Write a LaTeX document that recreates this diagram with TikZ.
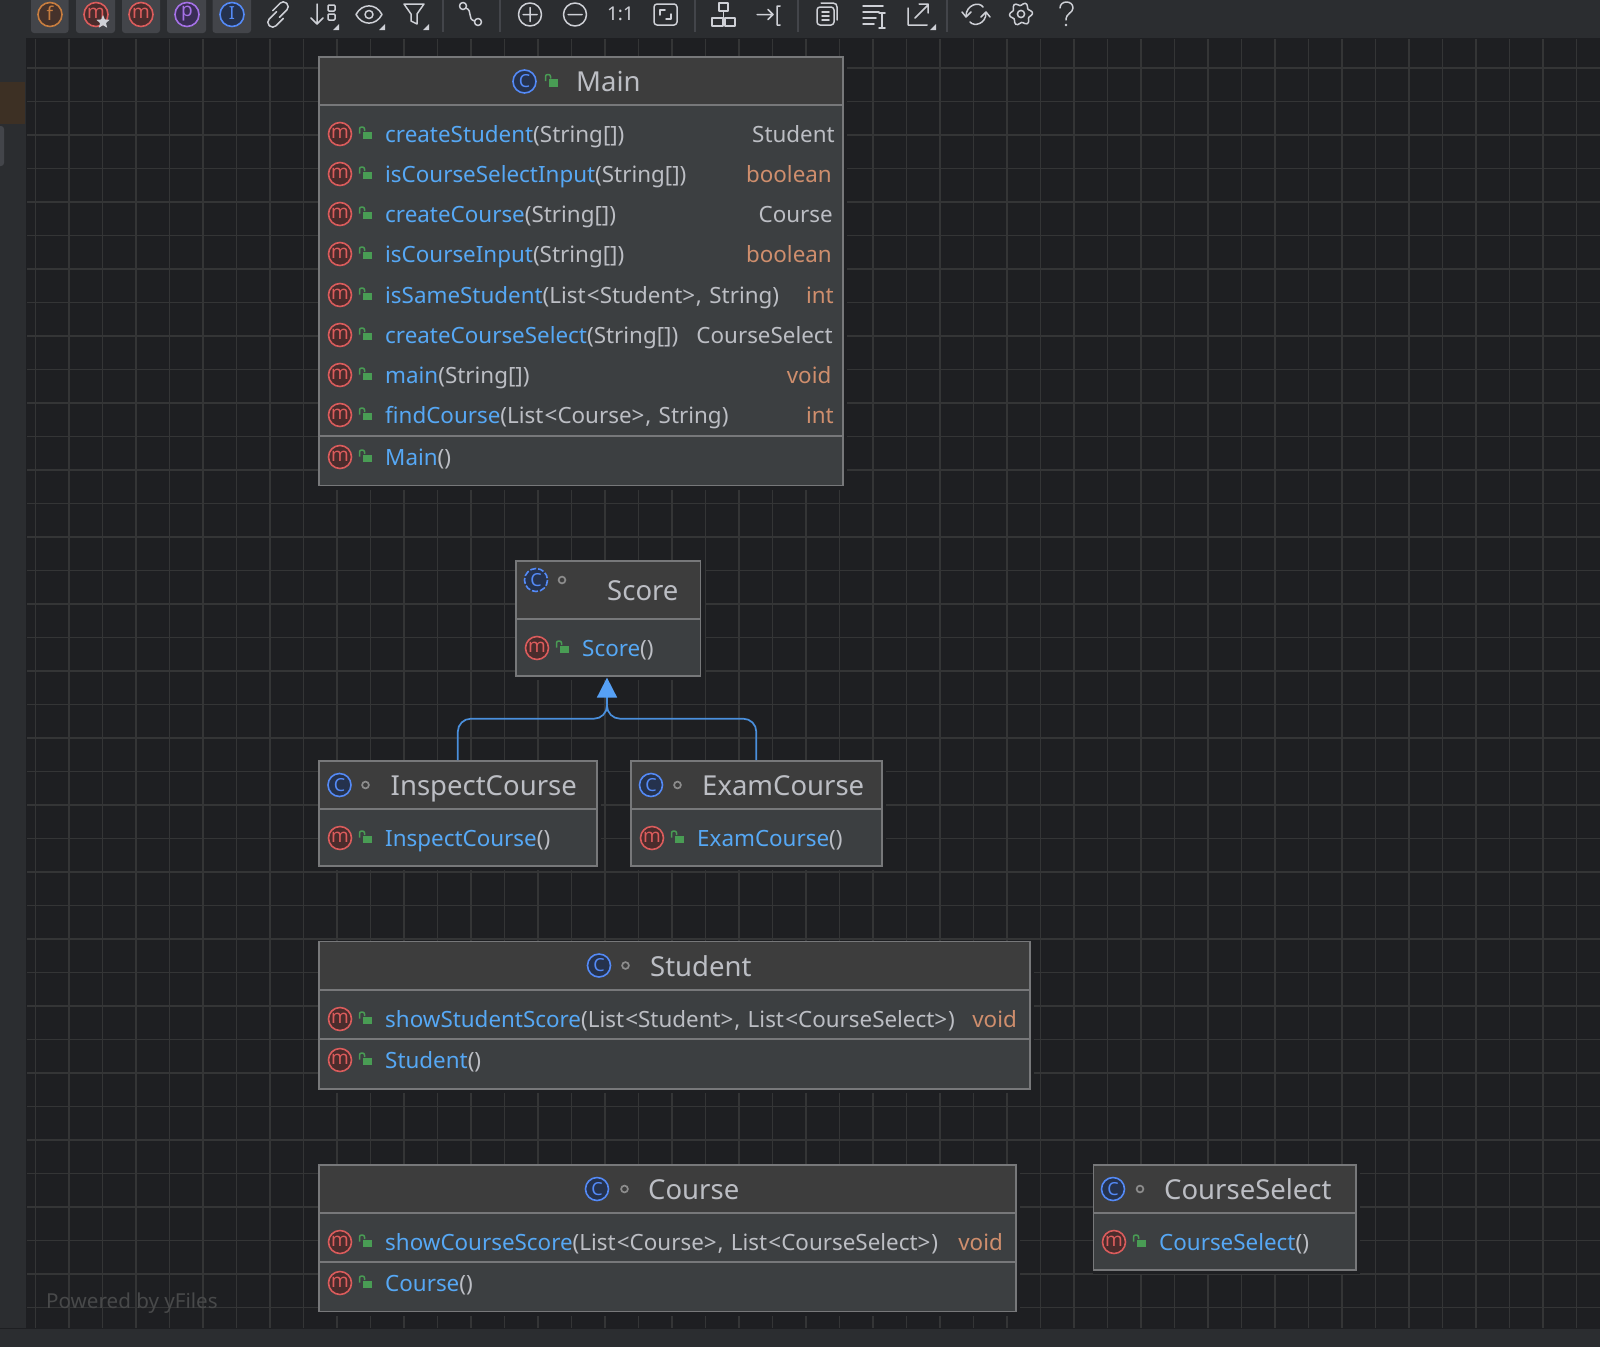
\documentclass[tikz,border=0pt]{standalone}
\usepackage{fontspec}
\setmainfont{Noto Sans}
\usetikzlibrary{arrows.meta,shapes.geometric}
\definecolor{canvasbg}{HTML}{1E1F22}
\definecolor{barbg}{HTML}{2B2D30}
\definecolor{gridc}{HTML}{343536}
\definecolor{headbg}{HTML}{3D3D3D}
\definecolor{bodybg}{HTML}{3C3F41}
\definecolor{edgec}{HTML}{77787A}
\definecolor{txt}{HTML}{BCBEC4}
\definecolor{methc}{HTML}{56A8F5}
\definecolor{kw}{HTML}{CF8E6D}
\definecolor{redc}{HTML}{DB5C5C}
\definecolor{redbg}{HTML}{4A2C2C}
\definecolor{bluec}{HTML}{548AF7}
\definecolor{bluebg}{HTML}{25324D}
\definecolor{greenc}{HTML}{499C54}
\definecolor{purc}{HTML}{A571E6}
\definecolor{purbg}{HTML}{3A2D55}
\definecolor{orgc}{HTML}{C77D3F}
\definecolor{orgbg}{HTML}{45322B}
\definecolor{btnbg}{HTML}{43454A}
\definecolor{iconc}{HTML}{CED0D6}
\definecolor{sepc}{HTML}{43454A}
\definecolor{brownc}{HTML}{3D3024}
\definecolor{connc}{HTML}{4A8FDC}
\definecolor{arrowc}{HTML}{56A0F5}
\newcount\tn
\newcommand{\nextid}{\global\advance\tn by 1\relax}
\newcommand{\lang}{\kern1.2pt<}
\newcommand{\rang}{>\kern0.8pt\relax}
\newcommand{\csp}{, \kern1.6pt\relax}
\tikzset{
  umlbox/.style={draw=edgec,line width=1.6pt,anchor=north west,inner sep=0pt},
  divider/.style={draw=edgec,line width=1.4pt},
  rowtxt/.style={anchor=base west,inner sep=0pt,font=\fontsize{22.4}{26}\selectfont},
  rettxt/.style={anchor=base east,inner sep=0pt,font=\fontsize{22.4}{26}\selectfont},
  titletxt/.style={anchor=base west,inner sep=0pt,text=txt,font=\fontsize{27.5}{32}\selectfont},
  ico/.style={draw=iconc,line width=1.5pt,line cap=round,line join=round},
  connector/.style={draw=connc,line width=1.7pt},
  glyph/.style={inner sep=0pt,font=\fontsize{19}{24}\selectfont},
  tbcirc/.style={line width=1.6pt},
}
\newcommand{\umlframe}[6]{%
  \fill[canvasbg] (#2,#3) rectangle ({#4+5},{#5+5});
  \fill[bodybg] (#2,#3) rectangle (#4,#5);
  \fill[headbg] (#2,#3) rectangle (#4,#6);
  \draw[divider] (#2,#6) -- (#4,#6);
  \node[umlbox,minimum width={(#4-#2)*1pt},minimum height={(#5-#3)*1pt}] (#1) at (#2,#3) {};
}
\newcommand{\micon}[2]{%
  \nextid
  \draw[redc,fill=redbg,tbcirc] (#1,#2) circle (11.5);
  \node[glyph,text=redc] (n\the\tn) at (#1,{#2-1}) {m};
}
\newcommand{\cicon}[3][solid]{%
  \nextid
  \draw[bluec,fill=bluebg,tbcirc,#1] (#2,#3) circle (11.5);
  \node[glyph,text=bluec,font=\fontsize{18}{20}\selectfont] (n\the\tn) at (#2,#3) {C};
}
\newcommand{\lockicon}[2]{%
  \fill[greenc] ({#1-2},{#2-2.5}) rectangle ({#1+6.5},{#2+5});
  \draw[greenc,line width=1.5pt,rounded corners=2pt] ({#1-5.5},{#2-0.5}) -- ({#1-5.5},{#2-7}) -- ({#1-0.5},{#2-7}) -- ({#1-0.5},{#2-3});
}
\newcommand{\doticon}[2]{\draw[gray!90,line width=1.7pt] (#1,#2) circle (3.4);}
\newcommand{\rowm}[4]{% x, y, method, rest
  \micon{#1}{#2}\lockicon{(#1+25)}{#2}%
  \nextid
  \node[rowtxt] (n\the\tn) at ({#1+45},{#2+8}) {\textcolor{methc}{#3}\textcolor{txt}{#4}};
}
\newcommand{\retval}[4]{%
  \nextid
  \node[rettxt,text=#3] (n\the\tn) at (#1,{#2+8}) {#4};
}
\newcommand{\titlenode}[3]{%
  \nextid
  \node[titletxt] (n\the\tn) at (#1,{#2+10.5}) {#3};
}
\newcommand{\tbbutton}[2]{\fill[btnbg,rounded corners=3pt] (#1,-6) rectangle (#2,33);}
\newcommand{\tbletter}[5]{% x, stroke, fill, letter
  \nextid
  \draw[#2,fill=#3,tbcirc] (#1,14.5) circle (12);
  \node[inner sep=0pt,text=#2,font=\fontsize{#5}{24}\selectfont] (n\the\tn) at (#1,13.5) {#4};
}
\begin{document}
\begin{tikzpicture}[x=1pt,y=-1pt]
\useasboundingbox (0,0) rectangle (1600,1347);
% backgrounds
\fill[canvasbg] (0,0) rectangle (1600,1347);
\foreach \k in {0,...,46} \draw[gridc,line width=1.3pt] ({35.5+33.5*\k},39) -- ({35.5+33.5*\k},1328);
\foreach \k in {0,...,37} \draw[gridc,line width=1.3pt] (27,{68+33.5*\k}) -- (1600,{68+33.5*\k});
\fill[barbg] (0,0) rectangle (1600,37.5);
\fill[barbg] (0,0) rectangle (26,1328);
\fill[barbg] (0,1329) rectangle (1600,1347);
\fill[brownc] (0,82) rectangle (25,124);
\fill[btnbg,rounded corners=3pt] (-6,126) rectangle (4,166);
% toolbar buttons
\tbbutton{31}{68.5}\tbbutton{76}{115}\tbbutton{122}{160}\tbbutton{167}{206}\tbbutton{212.5}{251}
\tbletter{50}{orgc}{orgbg}{f}{19}
\tbletter{96}{redc}{redbg}{m}{19}
\node[star,star points=5,star point ratio=2.2,fill=iconc,inner sep=0pt,minimum size=14pt] (tbstar) at (103,22) {};
\tbletter{141}{redc}{redbg}{m}{19}
\tbletter{187}{purc}{purbg}{p}{19}
\tbletter{232}{bluec}{bluebg}{I}{18}
% separators
\foreach \sx in {443,500,695,798,947} \draw[sepc,line width=1.5pt] (\sx,0) -- (\sx,32);
% link
\begin{scope}[rotate around={45:(278,14.5)}]
\draw[ico,rounded corners=4.4pt] (279,11.5) -- (264,11.5) -- (264,21) -- (279,21);
\draw[ico,rounded corners=4.4pt] (277,8) -- (292,8) -- (292,17.5) -- (277,17.5);
\end{scope}
% sort
\draw[ico] (317,4) -- (317,24) (311,18) -- (317,24) -- (323,18);
\draw[ico,rounded corners=1pt] (328,5) rectangle (335,11) (328,14) rectangle (335,20);
% eye
\draw[ico] (356,14.5) .. controls (362,3) and (376,3) .. (382,14.5) .. controls (376,26) and (362,26) .. (356,14.5);
\draw[ico] (369,14.5) circle (4);
% filter
\draw[ico] (404,4) -- (424,4) -- (417,14) -- (417,24) -- (411,21) -- (411,14) -- cycle;
% small corner marks
\foreach \mx/\my in {339/30,385/30,429/30,936/30} \fill[iconc] (\mx,\my) -- ++(-6,0) -- ++(6,-6) -- cycle;
% route
\draw[ico] (463,6) circle (3.5) (478,22) circle (3.5);
\draw[ico] (466,8) .. controls (473,11) and (467,19) .. (474.5,21);
% plus, minus
\draw[ico] (530,14.5) circle (11.5) (523,14.5) -- (537,14.5) (530,7.5) -- (530,21.5);
\draw[ico] (575,14.5) circle (11.5) (568,14.5) -- (582,14.5);
\node[inner sep=0pt,text=iconc,font=\bfseries\fontsize{19}{22}\selectfont] (tbratio) at (620.5,14) {1:1};
% fit
\draw[ico,rounded corners=3pt] (654,4) rectangle (677,25);
\draw[ico] (660,15) -- (660,10) -- (665,10) (671,14) -- (671,19) -- (666,19);
% layout
\draw[ico] (719,3) rectangle (728,11) (712,18) rectangle (723,26) (725,18) rectangle (735,26) (723.5,11) -- (723.5,18);
% jump
\draw[ico] (757,14.5) -- (773,14.5) (768,9.5) -- (773,14.5) -- (768,19.5) (780,6) -- (777,6) -- (777,25) -- (780,25);
% copy
\draw[ico,rounded corners=3pt] (817,7) rectangle (834,25);
\draw[ico] (821,3) -- (833,3) .. controls (836,3) and (837,5) .. (837,7) -- (837,20);
\draw[ico] (822,12) -- (829,12) (822,16) -- (829,16) (822,20) -- (829,20);
% text
\draw[ico] (863,6) -- (883,6) (863,12) -- (879,12) (863,18) -- (876,18) (863,24) -- (874,24) (882,13) -- (882,28) (879,13) -- (885,13) (879,28) -- (885,28);
% export
\draw[ico] (908,8) -- (908,25) -- (927,25) (915,18) -- (928,5) (919,4) -- (928,4) -- (928,13);
% refresh
\draw[ico] (966,16) .. controls (966,5) and (979,1) .. (983,7);
\draw[ico] (986,13) .. controls (986,24) and (974,27) .. (970,22);
\draw[ico] (962,12) -- (966,17) -- (971,12) (981,17) -- (986,12) -- (990,17);
% gear
\draw[ico] plot[smooth cycle,samples=37,domain=0:350] ({1021+(10+1.6*cos(6*\x+30))*cos(\x)},{14+(10+1.6*cos(6*\x+30))*sin(\x)});
\draw[ico] (1021,14) circle (3.6);
% help
\draw[ico] (1060,8) .. controls (1060,0) and (1073,0) .. (1073,8) .. controls (1073,13) and (1066,13) .. (1066,20);
\fill[iconc] (1066,25) circle (1.3);
%
\nextid
\node[anchor=base west,inner sep=0pt,text=gridc!90!white,font=\fontsize{20.6}{24}\selectfont] (n\the\tn) at (46,1308) {Powered by yFiles};
% Main
\umlframe{main}{318}{56}{842}{484.5}{105}
\draw[divider] (318,436) -- (842,436);
\cicon{524.5}{81.5}\lockicon{551}{81.5}\titlenode{576}{81}{Main}
\rowm{340}{134}{createStudent}{(String[])}\retval{835}{134}{txt}{Student}
\rowm{340}{174}{isCourseSelectInput}{(String[])}\retval{832}{174}{kw}{boolean}
\rowm{340}{214}{createCourse}{(String[])}\retval{833}{214}{txt}{Course}
\rowm{340}{254}{isCourseInput}{(String[])}\retval{832}{254}{kw}{boolean}
\rowm{340}{295}{isSameStudent}{(List\lang Student\rang\csp String)}\retval{834}{295}{kw}{int}
\rowm{340}{335}{createCourseSelect}{(String[])}\retval{833}{335}{txt}{CourseSelect}
\rowm{340}{375}{main}{(String[])}\retval{831.5}{375}{kw}{void}
\rowm{340}{415}{findCourse}{(List\lang Course\rang\csp String)}\retval{834}{415}{kw}{int}
\rowm{340}{457}{Main}{()}
% Score
\umlframe{score}{515}{560}{699.5}{675}{619}
\cicon[dash pattern=on 6pt off 2pt]{536}{580}\doticon{562}{580}\titlenode{607}{590}{Score}
\rowm{537}{648}{Score}{()}
% InspectCourse
\umlframe{inspect}{318}{760}{596}{865}{809}
\cicon{339.5}{785}\doticon{365.5}{785}\titlenode{390.5}{785}{InspectCourse}
\rowm{340}{838}{InspectCourse}{()}
% ExamCourse
\umlframe{exam}{630}{760}{881}{865}{809}
\cicon{651}{785}\doticon{677.5}{785}\titlenode{702}{785}{ExamCourse}
\rowm{652}{838}{ExamCourse}{()}
% Student
\umlframe{student}{318}{940.5}{1029}{1088}{990}
\draw[divider] (318,1039) -- (1029,1039);
\cicon{599}{965.5}\doticon{625.5}{965.5}\titlenode{650}{965.5}{Student}
\rowm{340}{1019}{showStudentScore}{(List\lang Student\rang\csp List\lang CourseSelect\rang)}\retval{1017}{1019}{kw}{void}
\rowm{340}{1060}{Student}{()}
% Course
\umlframe{course}{318}{1164}{1015}{1310.5}{1213}
\draw[divider] (318,1262) -- (1015,1262);
\cicon{597}{1189}\doticon{624.5}{1189}\titlenode{648}{1189}{Course}
\rowm{340}{1242}{showCourseScore}{(List\lang Course\rang\csp List\lang CourseSelect\rang)}\retval{1003}{1242}{kw}{void}
\rowm{340}{1283}{Course}{()}
% CourseSelect
\umlframe{courseselect}{1092.5}{1164}{1355}{1269}{1213}
\cicon{1113}{1189}\doticon{1140}{1189}\titlenode{1164}{1189}{CourseSelect}
\rowm{1114}{1242}{CourseSelect}{()}
% connectors
\coordinate (merge) at (607,709);
\coordinate (hbar) at (607,718.7);
\draw[connector,rounded corners=13pt] (inspect.north) -- (inspect.north |- hbar) -- (hbar) -- (merge);
\draw[connector,rounded corners=13pt] (exam.north) -- (exam.north |- hbar) -- (hbar) -- (merge);
\draw[connector,-{Triangle[width=20pt,length=20pt,color=arrowc]},shorten >=1pt] (merge) -- (merge |- score.south);
\end{tikzpicture}
\end{document}
